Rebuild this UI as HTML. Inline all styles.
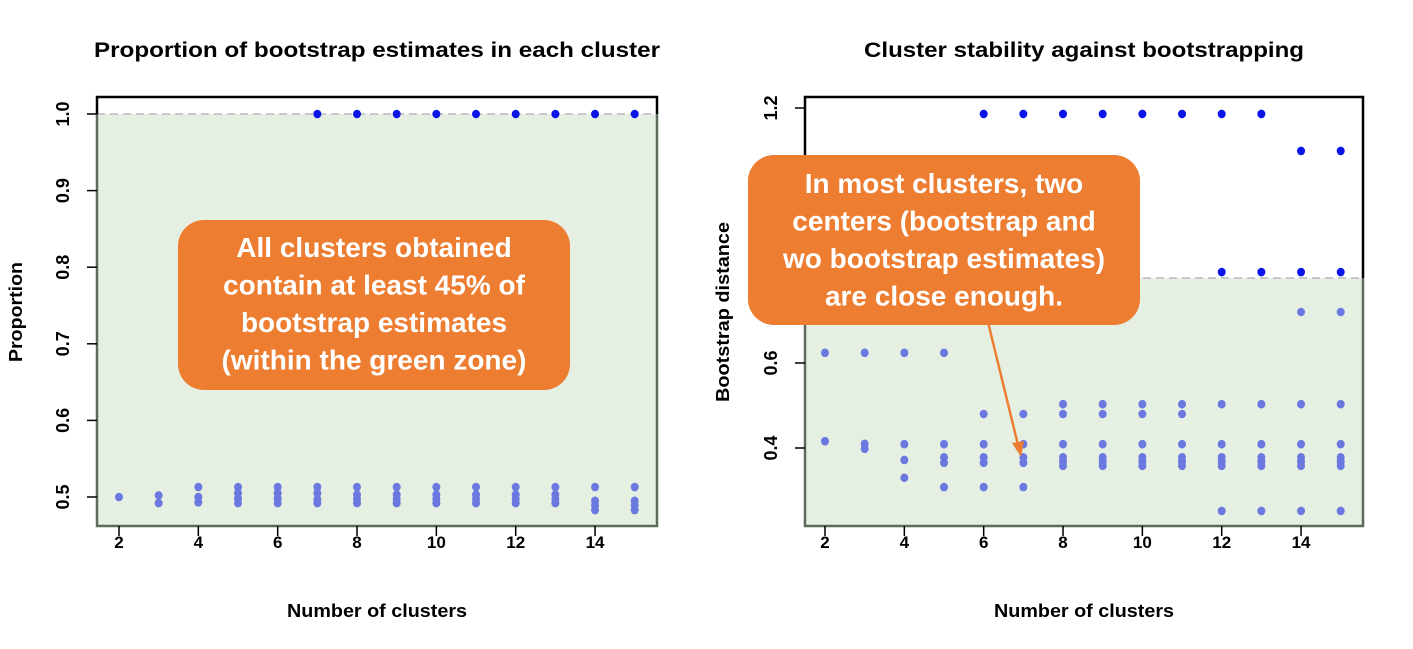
<!DOCTYPE html>
<html><head><meta charset="utf-8"><style>
body{margin:0;background:#fff;}
svg{display:block;font-family:"Liberation Sans",sans-serif;}
</style></head><body>
<svg id="svg" width="1413" height="649" xmlns="http://www.w3.org/2000/svg"></svg>
<script>
const ks=[2,3,4,5,6,7,8,9,10,11,12,13,14,15];
// left: proportion values per k
const propLow=[[0.5],[0.502,0.492],[0.513,0.5,0.493],[0.513,0.505,0.498,0.492],[0.513,0.505,0.498,0.492],[0.513,0.505,0.497,0.492],[0.513,0.503,0.497,0.492],[0.513,0.503,0.497,0.492],[0.513,0.503,0.497,0.492],[0.513,0.503,0.497,0.492],[0.513,0.503,0.497,0.492],[0.513,0.503,0.497,0.492],[0.513,0.495,0.489,0.483],[0.513,0.495,0.489,0.483]];
const propHighK=[7,8,9,10,11,12,13,14,15];
const propHigh=[1,1,1,1,1,1,1,1,1];
const propThreshold=1.0;
const leftTicks=[0.5,0.6,0.7,0.8,0.9,1.0];
// right: bootstrap distance per k
const distLow=[[0.624,0.416],[0.624,0.41,0.398],[0.624,0.409,0.372,0.33],[0.624,0.409,0.378,0.365,0.308],[0.48,0.409,0.378,0.365,0.308],[0.48,0.409,0.378,0.365,0.308],[0.503,0.48,0.409,0.378,0.368,0.358],[0.503,0.48,0.409,0.378,0.368,0.358],[0.503,0.48,0.409,0.378,0.368,0.358],[0.503,0.48,0.409,0.378,0.368,0.358],[0.503,0.409,0.378,0.368,0.358,0.252],[0.503,0.409,0.378,0.368,0.358,0.252],[0.72,0.503,0.409,0.378,0.368,0.358,0.252],[0.72,0.503,0.409,0.378,0.368,0.358,0.252]];
const distHighK=[6,7,8,9,10,11,12,13,12,13,14,15,14,15];
const distHigh=[1.186,1.186,1.186,1.186,1.186,1.186,1.186,1.186,0.814,0.814,0.814,0.814,1.099,1.099];
const distThreshold=0.8;
const rightTicks=[0.4,0.6,0.8,1.0,1.2];
const xTicks=[2,4,6,8,10,12,14];

const svg=document.getElementById('svg');
const NS='http://www.w3.org/2000/svg';
function mk(tag,attrs,parent){const e=document.createElementNS(NS,tag);for(const k in attrs)e.setAttribute(k,attrs[k]);(parent||svg).appendChild(e);return e;}

function panel(o){
  const g=mk('g',{});
  
  
  const X=k=>o.x0+(k-2)*39.67;
  const Y=v=>o.yRef-(v-o.vRef)*o.ppu;
  const yt=Y(o.thr);
  const z=mk('rect',{x:o.L,y:yt,width:o.R-o.L,height:o.B-yt,fill:'#e5f0e3'},g);
  
  
  const dl=mk('line',{x1:o.L,x2:o.R,y1:yt,y2:yt,stroke:'#b8b8b8','stroke-width':1.5,'stroke-dasharray':'8,5'},g);
  
  
  mk('path',{d:`M${o.L} ${yt}V${o.B}H${o.R}V${yt}`,fill:'none',stroke:'#5d6b5d','stroke-width':2.5},g);
  mk('path',{d:`M${o.L} ${yt}V${o.T}H${o.R}V${yt}`,fill:'none',stroke:'#000','stroke-width':2.5},g);
  o.yt.forEach(v=>{const y=Y(v);if(y<o.T-8)return;
    mk('line',{x1:o.L-10,x2:o.L,y1:y,y2:y,stroke:'#000','stroke-width':1.5},g);
    const t=mk('text',{x:o.L-28,y:y,transform:`rotate(-90 ${o.L-28} ${y})`,'text-anchor':'middle','font-size':18,'font-weight':'bold'},g);
    t.textContent=v.toFixed(1);
    
    
  });
  xTicks.forEach(k=>{const x=X(k);
    mk('line',{x1:x,x2:x,y1:o.B,y2:o.B+10,stroke:'#000','stroke-width':1.5},g);
    const t=mk('text',{x:x,y:o.B+22,'text-anchor':'middle','font-size':17,'font-weight':'bold'},g);
    t.textContent=k;
    
    
  });
  o.low.forEach((arr,i)=>arr.forEach(v=>{
    const c=mk('ellipse',{cx:X(ks[i]),cy:Y(v),rx:4,ry:4.3,fill:'#6a78e0'},g);
    
    
  }));
  o.hk.forEach((k,i)=>{
    const c=mk('ellipse',{cx:X(k),cy:Y(o.hv[i]),rx:4,ry:4.3,fill:'#0a14e8'},g);
    
    
  });
  const ti=mk('text',{x:(o.L+o.R)/2,y:57,'text-anchor':'middle','font-size':21,'font-weight':'bold',textLength:o.tw,lengthAdjust:'spacingAndGlyphs'},g);
  ti.textContent=o.title;
  
  
  const xl=mk('text',{x:(o.L+o.R)/2,y:617,'text-anchor':'middle','font-size':18,'font-weight':'bold',textLength:180,lengthAdjust:'spacingAndGlyphs'},g);
  xl.textContent='Number of clusters';
  
  
  const yl=mk('text',{x:o.ylx,y:o.ylc,transform:`rotate(-90 ${o.ylx} ${o.ylc})`,'text-anchor':'middle','font-size':18,'font-weight':'bold',textLength:o.ylw,lengthAdjust:'spacingAndGlyphs'},g);
  yl.textContent=o.ylab;
  
  
}
panel({name:'proportion-plot',L:97,R:657,T:97,B:526,x0:119,yRef:497,vRef:0.5,ppu:766,thr:propThreshold,yt:leftTicks,low:propLow,hk:propHighK,hv:propHigh,title:'Proportion of bootstrap estimates in each cluster',tw:566,ylab:'Proportion',ylx:22,ylc:312,ylw:100});
panel({name:'stability-plot',L:805,R:1363,T:97,B:526,x0:825,yRef:363,vRef:0.6,ppu:425,thr:distThreshold,yt:rightTicks,low:distLow,hk:distHighK,hv:distHigh,title:'Cluster stability against bootstrapping',tw:440,ylab:'Bootstrap distance',ylx:729,ylc:312,ylw:180});

function callout(name,x,y,w,h,lines,ly0){
  const g=mk('g',{});
  
  
  mk('rect',{x,y,width:w,height:h,rx:26,fill:'#ed7d31'},g);
  lines.forEach((s,i)=>{const t=mk('text',{x:x+w/2,y:ly0+i*37.5,'text-anchor':'middle','font-size':28,'font-weight':'bold',fill:'#fff'},g);t.textContent=s;});
}
const ar=mk('g',{});


mk('line',{x1:988,y1:322,x2:1018,y2:445,stroke:'#ed7d31','stroke-width':2.5},ar);
mk('polygon',{points:'1021,457 1012,443 1024,441',fill:'#ed7d31'},ar);
callout('left-callout',178,220,392,170,['All clusters obtained','contain at least 45% of','bootstrap estimates','(within the green zone)'],257);
callout('right-callout',748,155,392,170,['In most clusters, two','centers (bootstrap and','wo bootstrap estimates)','are close enough.'],193);
</script>
</body></html>
